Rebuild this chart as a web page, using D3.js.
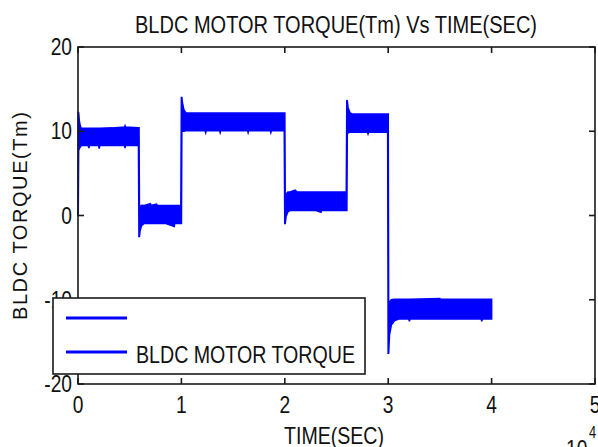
<!DOCTYPE html>
<html>
<head>
<meta charset="utf-8">
<script src="https://cdn.jsdelivr.net/npm/d3@7"></script>
<style>
  html, body { margin: 0; padding: 0; background: #fff; }
  svg { display: block; }
  .narrow { font-family: "Liberation Sans Narrow", "Arial Narrow", "Liberation Sans", Arial, sans-serif; fill: #111; }
  .wide { font-family: "Liberation Sans", Arial, sans-serif; fill: #111; }
</style>
</head>
<body>
<svg id="chart" width="598" height="447"></svg>
<script>
// Axis ticks (time axis is in units of 10^4 s)
const xTicks = [0, 1, 2, 3, 4, 5];
const yTicks = [-20, -10, 0, 10, 20];

// Torque envelope: [time, upper edge of ripple band, lower edge of ripple band]
const startRise = [
  [0.000, 0.0, 0.0], [0.002, 12.3, 0.0], [0.006, 12.2, 8.0],
  [0.012, 11.3, 7.9], [0.020, 10.7, 8.1], [0.030, 10.35, 8.3]
];
const level1 = [
  [0.100, 10.35, 8.3], [0.105, 10.1, 8.0], [0.110, 10.35, 8.3],
  [0.200, 10.35, 8.3], [0.205, 10.35, 7.95], [0.210, 10.35, 8.3],
  [0.330, 10.4, 8.3], [0.335, 10.1, 8.3], [0.340, 10.4, 8.3],
  [0.450, 10.5, 8.3], [0.455, 10.65, 8.0], [0.460, 10.5, 8.3],
  [0.585, 10.4, 8.3]
];
const step1 = [
  [0.590, 10.4, -2.5], [0.594, 0.6, -2.5], [0.600, 1.0, -1.8],
  [0.615, 1.2, -1.2], [0.640, 1.19, -0.95]
];
const level2 = [
  [0.700, 1.4, -0.95], [0.705, 1.19, -0.95], [0.760, 1.35, -0.95],
  [0.765, 1.19, -0.95], [0.850, 1.19, -0.95], [0.930, 1.19, -1.3],
  [0.935, 1.19, -0.95], [0.995, 1.19, -0.95]
];
const step2 = [
  [1.000, 14.0, -0.95], [1.004, 14.0, 10.0], [1.012, 13.2, 10.0],
  [1.025, 12.5, 10.0], [1.045, 12.16, 10.08]
];
const level3 = [
  [1.230, 12.16, 10.08], [1.235, 11.9, 9.85], [1.240, 12.16, 10.08],
  [1.370, 12.16, 10.08], [1.375, 12.16, 9.85], [1.380, 12.16, 10.08],
  [1.640, 12.16, 10.08], [1.645, 12.16, 9.85], [1.650, 12.16, 10.08],
  [1.860, 12.16, 10.08], [1.865, 12.16, 9.85], [1.870, 12.16, 10.08],
  [1.995, 12.16, 10.08]
];
const step3 = [
  [2.000, 12.16, -0.93], [2.004, 2.0, -0.93], [2.012, 2.5, -0.1],
  [2.030, 2.79, 0.45], [2.050, 2.79, 0.59]
];
const level4 = [
  [2.100, 3.0, 0.59], [2.120, 2.79, 0.59], [2.300, 2.79, 0.59],
  [2.350, 2.79, 0.4], [2.355, 2.79, 0.59], [2.595, 2.79, 0.59]
];
const step4 = [
  [2.600, 13.7, 0.59], [2.604, 13.6, 9.7], [2.612, 12.8, 9.8],
  [2.630, 12.2, 9.9], [2.650, 12.04, 9.9]
];
const level5 = [
  [2.800, 12.04, 9.9], [2.805, 12.04, 9.7], [2.810, 12.04, 9.9],
  [2.995, 12.04, 9.9]
];
const step5 = [
  [3.000, 12.04, -16.35], [3.004, -11.0, -16.35], [3.012, -10.3, -14.2],
  [3.030, -10.0, -13.0], [3.060, -9.96, -12.5], [3.100, -9.96, -12.28]
];
const level6 = [
  [3.200, -9.96, -12.28], [3.205, -9.96, -12.55], [3.210, -9.96, -12.28],
  [3.500, -9.85, -12.28], [3.505, -9.96, -12.28],
  [3.900, -9.96, -12.28], [3.905, -9.96, -12.55], [3.910, -9.96, -12.28],
  [4.000, -9.96, -12.28]
];

const torque = [].concat(startRise, level1, step1, level2, step2, level3,
                         step3, level4, step4, level5, step5, level6);

const titleText = "BLDC MOTOR TORQUE(Tm) Vs TIME(SEC)";
const xLabelText = "TIME(SEC)";
const yLabelText = "BLDC TORQUE(Tm)";
const legendLabels = ["", "BLDC MOTOR TORQUE"];

const svg = d3.select("#chart");
const plot = { left: 78, right: 595, top: 47, bottom: 384 };
const blue = "#0000ff";
const ink = "#1a1a1a";
const squeeze = 0.8; // horizontal condensing for the narrow label face

const x = d3.scaleLinear().domain([0, 5]).range([plot.left, plot.right]);
const y = d3.scaleLinear().domain([-20, 20]).range([plot.bottom, plot.top]);

// Torque ripple band
const area = d3.area()
  .x(d => x(d[0]))
  .y0(d => y(d[2]))
  .y1(d => y(d[1]));

svg.append("path")
  .datum(torque)
  .attr("d", area)
  .attr("fill", blue)
  .attr("stroke", blue)
  .attr("stroke-width", 1.6)
  .attr("stroke-linejoin", "miter");

// Axes box with inward ticks on all four sides
const tickLen = 6;
const axisG = svg.append("g").attr("stroke", ink).attr("stroke-width", 1.6).attr("fill", "none");
axisG.append("rect")
  .attr("x", plot.left).attr("y", plot.top)
  .attr("width", plot.right - plot.left).attr("height", plot.bottom - plot.top);

xTicks.forEach(t => {
  axisG.append("line").attr("x1", x(t)).attr("x2", x(t)).attr("y1", plot.bottom).attr("y2", plot.bottom - tickLen);
  axisG.append("line").attr("x1", x(t)).attr("x2", x(t)).attr("y1", plot.top).attr("y2", plot.top + tickLen);
});
yTicks.forEach(v => {
  axisG.append("line").attr("y1", y(v)).attr("y2", y(v)).attr("x1", plot.left).attr("x2", plot.left + tickLen);
  axisG.append("line").attr("y1", y(v)).attr("y2", y(v)).attr("x1", plot.right).attr("x2", plot.right - tickLen);
});

// Tick labels (condensed)
svg.append("g").selectAll("text").data(xTicks).join("text")
  .attr("class", "narrow")
  .attr("transform", d => `translate(${x(d)},${plot.bottom + 29}) scale(${squeeze},1)`)
  .attr("text-anchor", "middle").attr("font-size", 24)
  .text(d => d);

svg.append("g").selectAll("text").data(yTicks).join("text")
  .attr("class", "narrow")
  .attr("transform", d => `translate(${plot.left - 6},${y(d) + 8}) scale(${squeeze},1)`)
  .attr("text-anchor", "end").attr("font-size", 24)
  .text(d => d);

// Exponent of the time axis
svg.append("text").attr("class", "narrow")
  .attr("transform", `translate(566,457) scale(${squeeze},1)`)
  .attr("font-size", 24).text("10");
svg.append("text").attr("class", "narrow")
  .attr("transform", `translate(589,438) scale(${squeeze},1)`)
  .attr("font-size", 16).text("4");

// Title and axis labels
svg.append("text").attr("class", "narrow")
  .attr("x", 336).attr("y", 33).attr("text-anchor", "middle")
  .attr("font-size", 23)
  .attr("textLength", 402).attr("lengthAdjust", "spacingAndGlyphs")
  .text(titleText);

svg.append("text").attr("class", "narrow")
  .attr("x", 334).attr("y", 444).attr("text-anchor", "middle")
  .attr("font-size", 24)
  .attr("textLength", 100).attr("lengthAdjust", "spacingAndGlyphs")
  .text(xLabelText);

svg.append("text").attr("class", "wide")
  .attr("transform", "translate(27,216) rotate(-90)")
  .attr("text-anchor", "middle")
  .attr("font-size", 20)
  .attr("textLength", 208).attr("lengthAdjust", "spacing")
  .text(yLabelText);

// Legend
const legend = svg.append("g");
legend.append("rect")
  .attr("x", 53).attr("y", 298).attr("width", 312).attr("height", 76)
  .attr("fill", "#fff").attr("stroke", ink).attr("stroke-width", 1.6);
legendLabels.forEach((label, i) => {
  const ly = 318 + i * 34;
  legend.append("line")
    .attr("x1", 66).attr("x2", 127).attr("y1", ly).attr("y2", ly)
    .attr("stroke", blue).attr("stroke-width", 3);
  if (label) {
    legend.append("text").attr("class", "narrow")
      .attr("x", 136).attr("y", ly + 11)
      .attr("font-size", 24)
      .attr("textLength", 219).attr("lengthAdjust", "spacingAndGlyphs")
      .text(label);
  }
});
</script>
</body>
</html>
